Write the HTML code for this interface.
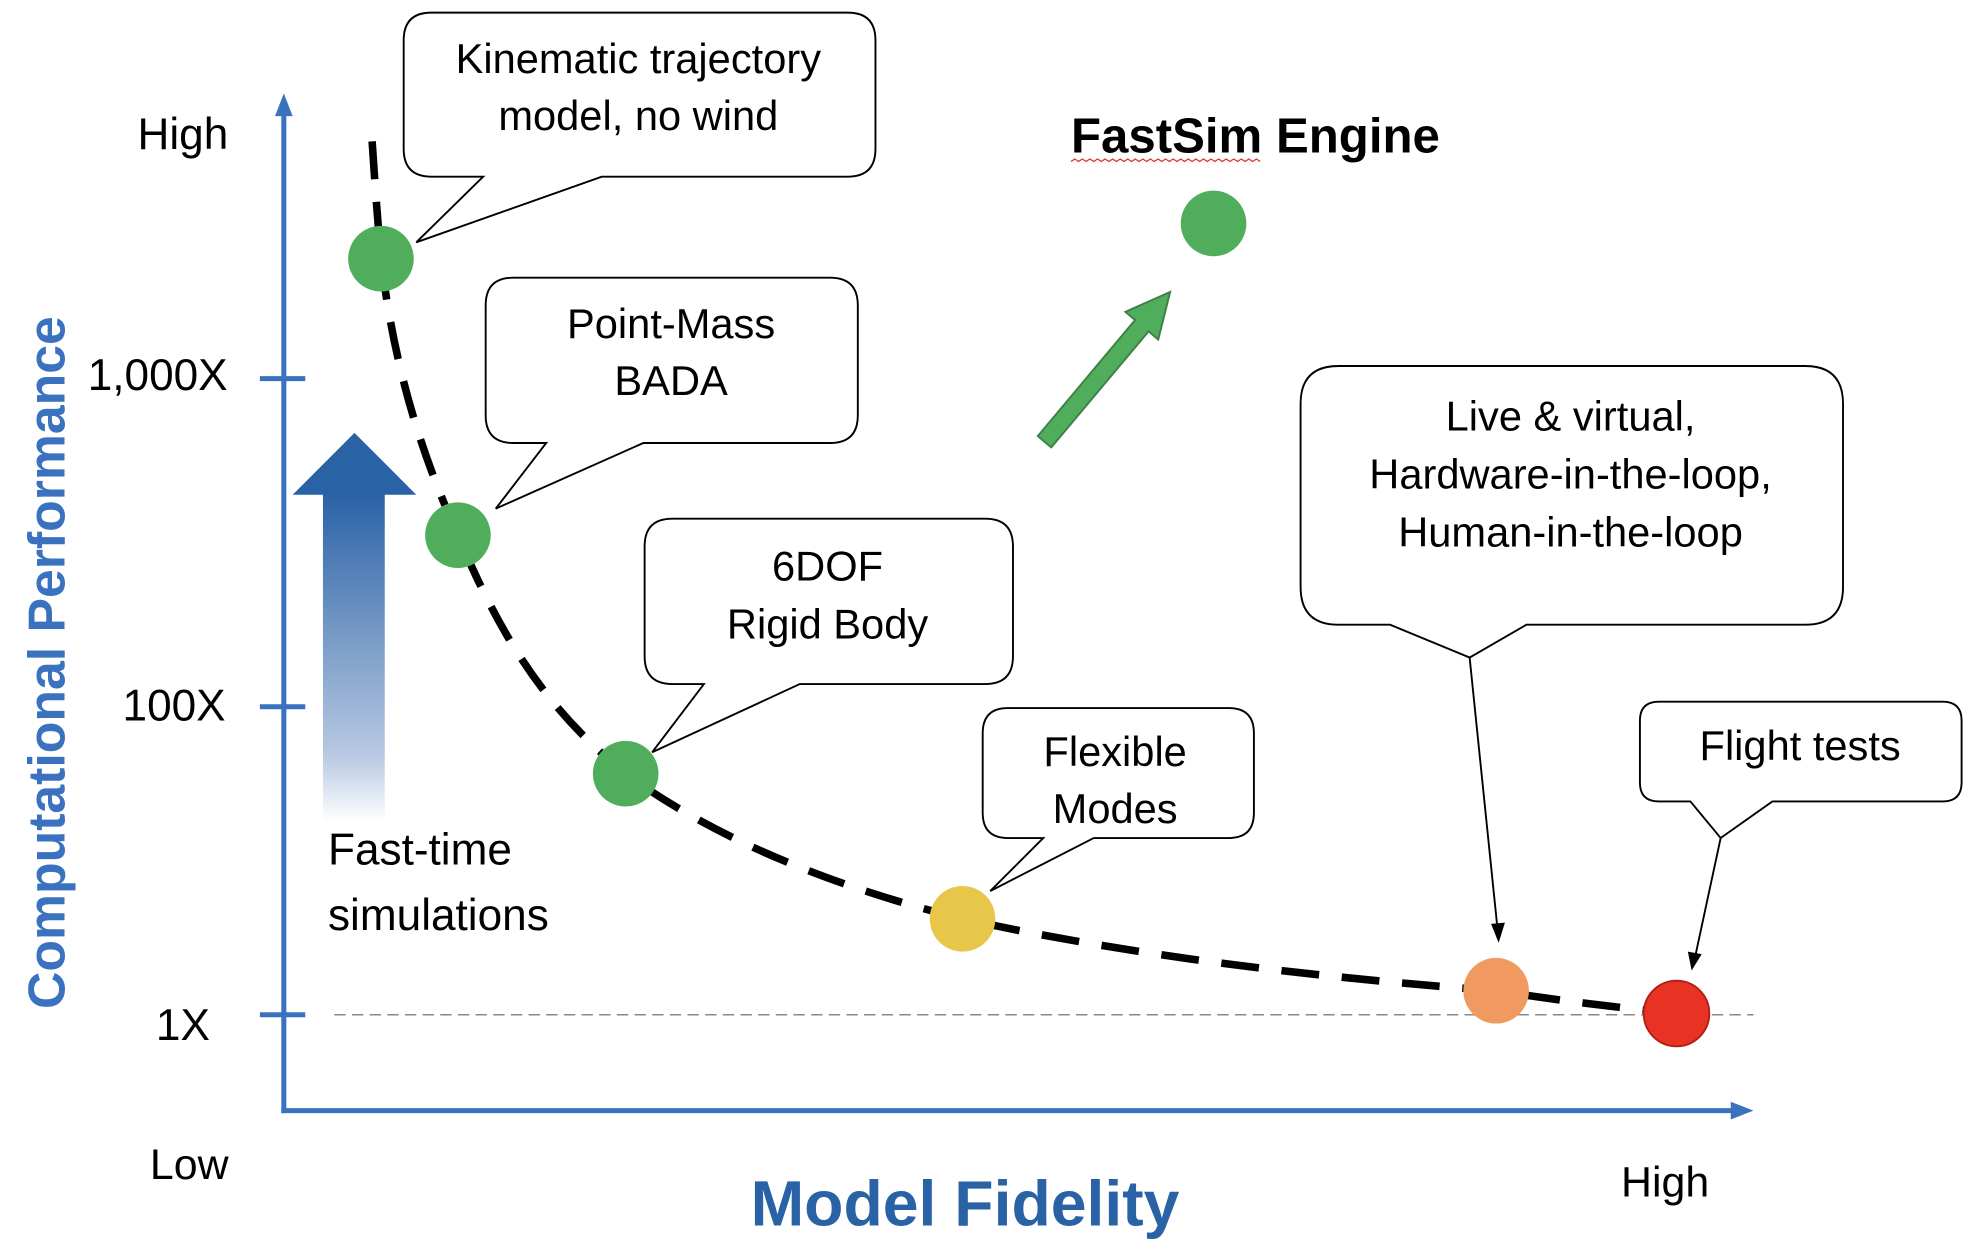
<!DOCTYPE html>
<html><head><meta charset="utf-8"><style>
html,body{margin:0;padding:0;background:#fff;}
svg{display:block;}
text{font-family:"Liberation Sans",sans-serif;fill:#000;}
</style></head><body>
<svg width="1978" height="1252" viewBox="0 0 1568 992" preserveAspectRatio="none" xmlns="http://www.w3.org/2000/svg">
<defs>
<linearGradient id="bg" x1="0" y1="0" x2="0" y2="1">
<stop offset="0" stop-color="#2a62a6"/><stop offset="0.8" stop-color="#b8c9e2"/><stop offset="1" stop-color="#ffffff"/>
</linearGradient>
</defs>
<line x1="225" y1="882" x2="225" y2="88" stroke="#3a72c0" stroke-width="4"/>
<polygon points="225,74 218,92 232,92" fill="#3a72c0"/>
<line x1="223" y1="880" x2="1375" y2="880" stroke="#3a72c0" stroke-width="4"/>
<polygon points="1390,880 1372,873 1372,887" fill="#3a72c0"/>
<g stroke="#3a72c0" stroke-width="4">
<line x1="206" y1="300" x2="242" y2="300"/><line x1="206" y1="560" x2="242" y2="560"/><line x1="206" y1="804" x2="242" y2="804"/>
</g>
<line x1="265" y1="804" x2="1390" y2="804" stroke="#888" stroke-width="1.2" stroke-dasharray="9,5"/>
<g font-size="35">
<text x="145" y="118" text-anchor="middle">High</text>
<text x="125" y="309" text-anchor="middle">1,000X</text>
<text x="138" y="571" text-anchor="middle">100X</text>
<text x="145" y="824" text-anchor="middle">1X</text>
<text x="150" y="934" text-anchor="middle" font-size="34">Low</text>
<text x="1320" y="948" text-anchor="middle" font-size="34">High</text>
</g>
<text x="765" y="971" text-anchor="middle" font-size="51" font-weight="bold" style="fill:#2a62a6">Model Fidelity</text>
<text transform="translate(51,525) rotate(-90)" text-anchor="middle" font-size="41" font-weight="bold" style="fill:#3a72c0">Computational Performance</text>
<rect x="256" y="391" width="49" height="260" fill="url(#bg)"/>
<polygon points="232,392 330,392 281,343" fill="#2a62a6"/>
<text x="260" y="685" font-size="35">Fast-time</text>
<text x="260" y="737" font-size="35">simulations</text>
<path d="M295,112 C298,160 302,205 302,205 C310,270 325,340 363,424 C395,500 430,560 496,613 C560,660 650,700 763,728 C900,758 1050,775 1186,785 C1250,795 1300,800 1330,803" fill="none" stroke="#000" stroke-width="6" stroke-dasharray="30,18"/>
<g fill="#fff" stroke="#000" stroke-width="1.5">
<path d="M342,10 H672 Q694,10 694,32 V118 Q694,140 672,140 H477 L330,192 L383,140 H342 Q320,140 320,118 V32 Q320,10 342,10 Z"/>
<path d="M407,220 H658 Q680,220 680,242 V329 Q680,351 658,351 H510 L393,403 L433,351 H407 Q385,351 385,329 V242 Q385,220 407,220 Z"/>
<path d="M533,411 H781 Q803,411 803,433 V520 Q803,542 781,542 H634 L517,596 L558,542 H533 Q511,542 511,520 V433 Q511,411 533,411 Z"/>
<path d="M799,561 H974 Q994,561 994,581 V644 Q994,664 974,664 H867 L785,706 L827,664 H799 Q779,664 779,644 V581 Q779,561 799,561 Z"/>
<path d="M1061,290 H1431 Q1461,290 1461,320 V465 Q1461,495 1431,495 H1210 L1165,521 L1102,495 H1061 Q1031,495 1031,465 V320 Q1031,290 1061,290 Z"/>
<path d="M1315,556 H1540 Q1555,556 1555,571 V620 Q1555,635 1540,635 H1405 L1364,664 L1340,635 H1315 Q1300,635 1300,620 V571 Q1300,556 1315,556 Z"/>
</g>
<g font-size="33" text-anchor="middle">
<text x="506" y="58">Kinematic trajectory</text><text x="506" y="103">model, no wind</text>
<text x="532" y="268">Point-Mass</text><text x="532" y="313">BADA</text>
<text x="656" y="460">6DOF</text><text x="656" y="506">Rigid Body</text>
<text x="884" y="607">Flexible</text><text x="884" y="652">Modes</text>
<text x="1245" y="341">Live &amp; virtual,</text><text x="1245" y="387">Hardware-in-the-loop,</text><text x="1245" y="433">Human-in-the-loop</text>
<text x="1427" y="602">Flight tests</text>
</g>
<line x1="1165" y1="521" x2="1187" y2="735" stroke="#000" stroke-width="1.5"/>
<polygon points="1188,747 1182,732 1193,731" fill="#000"/>
<line x1="1364" y1="664" x2="1344" y2="757" stroke="#000" stroke-width="1.5"/>
<polygon points="1341,769 1338,754 1349,756" fill="#000"/>
<g>
<circle cx="302" cy="205" r="26" fill="#4fad5b"/>
<circle cx="363" cy="424" r="26" fill="#4fad5b"/>
<circle cx="496" cy="613" r="26" fill="#4fad5b"/>
<circle cx="962" cy="177" r="26" fill="#4fad5b"/>
<circle cx="763" cy="728" r="26" fill="#e8c64a"/>
<circle cx="1186" cy="785" r="26" fill="#f09a5f"/>
<circle cx="1329" cy="803" r="26" fill="#e83223" stroke="#b02018" stroke-width="1.5"/>
</g>
<text x="849" y="121" font-size="39" font-weight="bold">FastSim Engine</text>
<path d="M849,128 l3,-2 l3,2 l3,-2 l3,2 l3,-2 l3,2 l3,-2 l3,2 l3,-2 l3,2 l3,-2 l3,2 l3,-2 l3,2 l3,-2 l3,2 l3,-2 l3,2 l3,-2 l3,2 l3,-2 l3,2 l3,-2 l3,2 l3,-2 l3,2 l3,-2 l3,2 l3,-2 l3,2 l3,-2 l3,2 l3,-2 l3,2 l3,-2 l3,2 l3,-2 l3,2 l3,-2 l3,2 l3,-2 l3,2 l3,-2 l3,2 l3,-2 l3,2 l3,-2 l3,2 l3,-2 l3,2" fill="none" stroke="#e03030" stroke-width="1"/>
<g transform="translate(828,350) rotate(-50)">
<polygon points="0,-7 120,-7 120,-17 155,0 120,17 120,7 0,7" fill="#4fad5b" stroke="#3d7f46" stroke-width="1.5"/>
</g>
</svg>
</body></html>
